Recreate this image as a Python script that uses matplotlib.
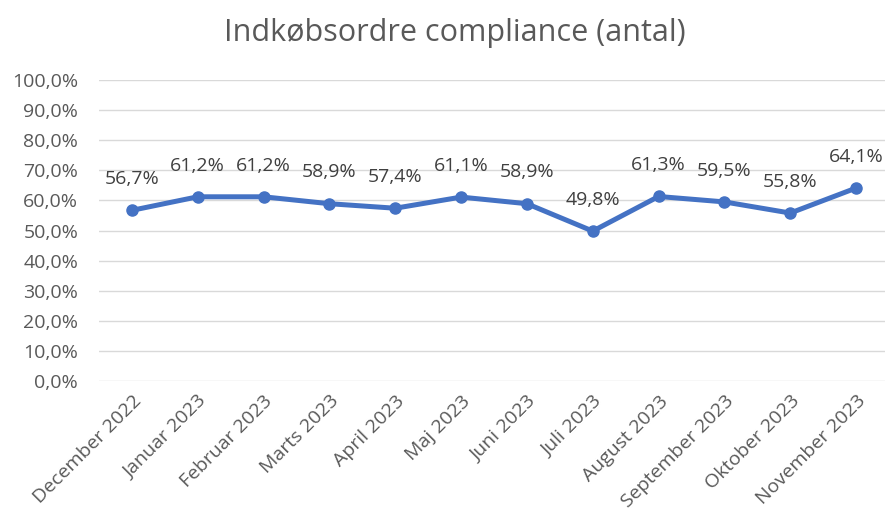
import matplotlib
matplotlib.use("Agg")
import matplotlib.pyplot as plt
from matplotlib.ticker import FuncFormatter, MultipleLocator

categories = ["December 2022", "Januar 2023", "Februar 2023", "Marts 2023", "April 2023",
              "Maj 2023", "Juni 2023", "Juli 2023", "August 2023", "September 2023",
              "Oktober 2023", "November 2023"]
values = [56.7, 61.2, 61.2, 58.9, 57.4, 61.1, 58.9, 49.8, 61.3, 59.5, 55.8, 64.1]
title = "Indkøbsordre compliance (antal)"

plt.rcParams['font.family'] = ['Open Sans', 'DejaVu Sans']
grey = "#595959"

fig = plt.figure(figsize=(8.85, 5.19), dpi=100)
ax = fig.add_axes([99/885, 1-381/519, (889-99)/885, (381-80)/519])

x = list(range(len(categories)))
ax.plot(x, values, color="#4472C4", linewidth=3.6, marker="o", markersize=8, solid_capstyle="round")

def fmt(v):
    return f"{v:.1f}%".replace(".", ",")

for xi, v in zip(x, values):
    ax.annotate(fmt(v), (xi, v), xytext=(0, 16), textcoords="offset points",
                ha="center", va="bottom", fontsize=14, color="#404040")

ax.set_ylim(0, 100)
ax.set_xlim(-0.5, len(categories) - 0.5)
ax.yaxis.set_major_locator(MultipleLocator(10))
ax.yaxis.set_major_formatter(FuncFormatter(lambda v, p: fmt(v)))
ax.grid(axis="y", color="#D9D9D9", linewidth=1)
ax.set_axisbelow(True)
for s in ax.spines.values():
    s.set_visible(False)
ax.tick_params(axis="both", length=0, colors=grey, labelsize=14)
ax.tick_params(axis="y", pad=15)
ax.set_xticks(x)
ax.set_xticklabels(categories, rotation=45, ha="right", rotation_mode="anchor")
ax.tick_params(axis="x", pad=8)

fig.text(455/885, 1-33/519, title, ha="center", va="center", fontsize=22, color=grey)

fig.savefig("out.png", dpi=100)
